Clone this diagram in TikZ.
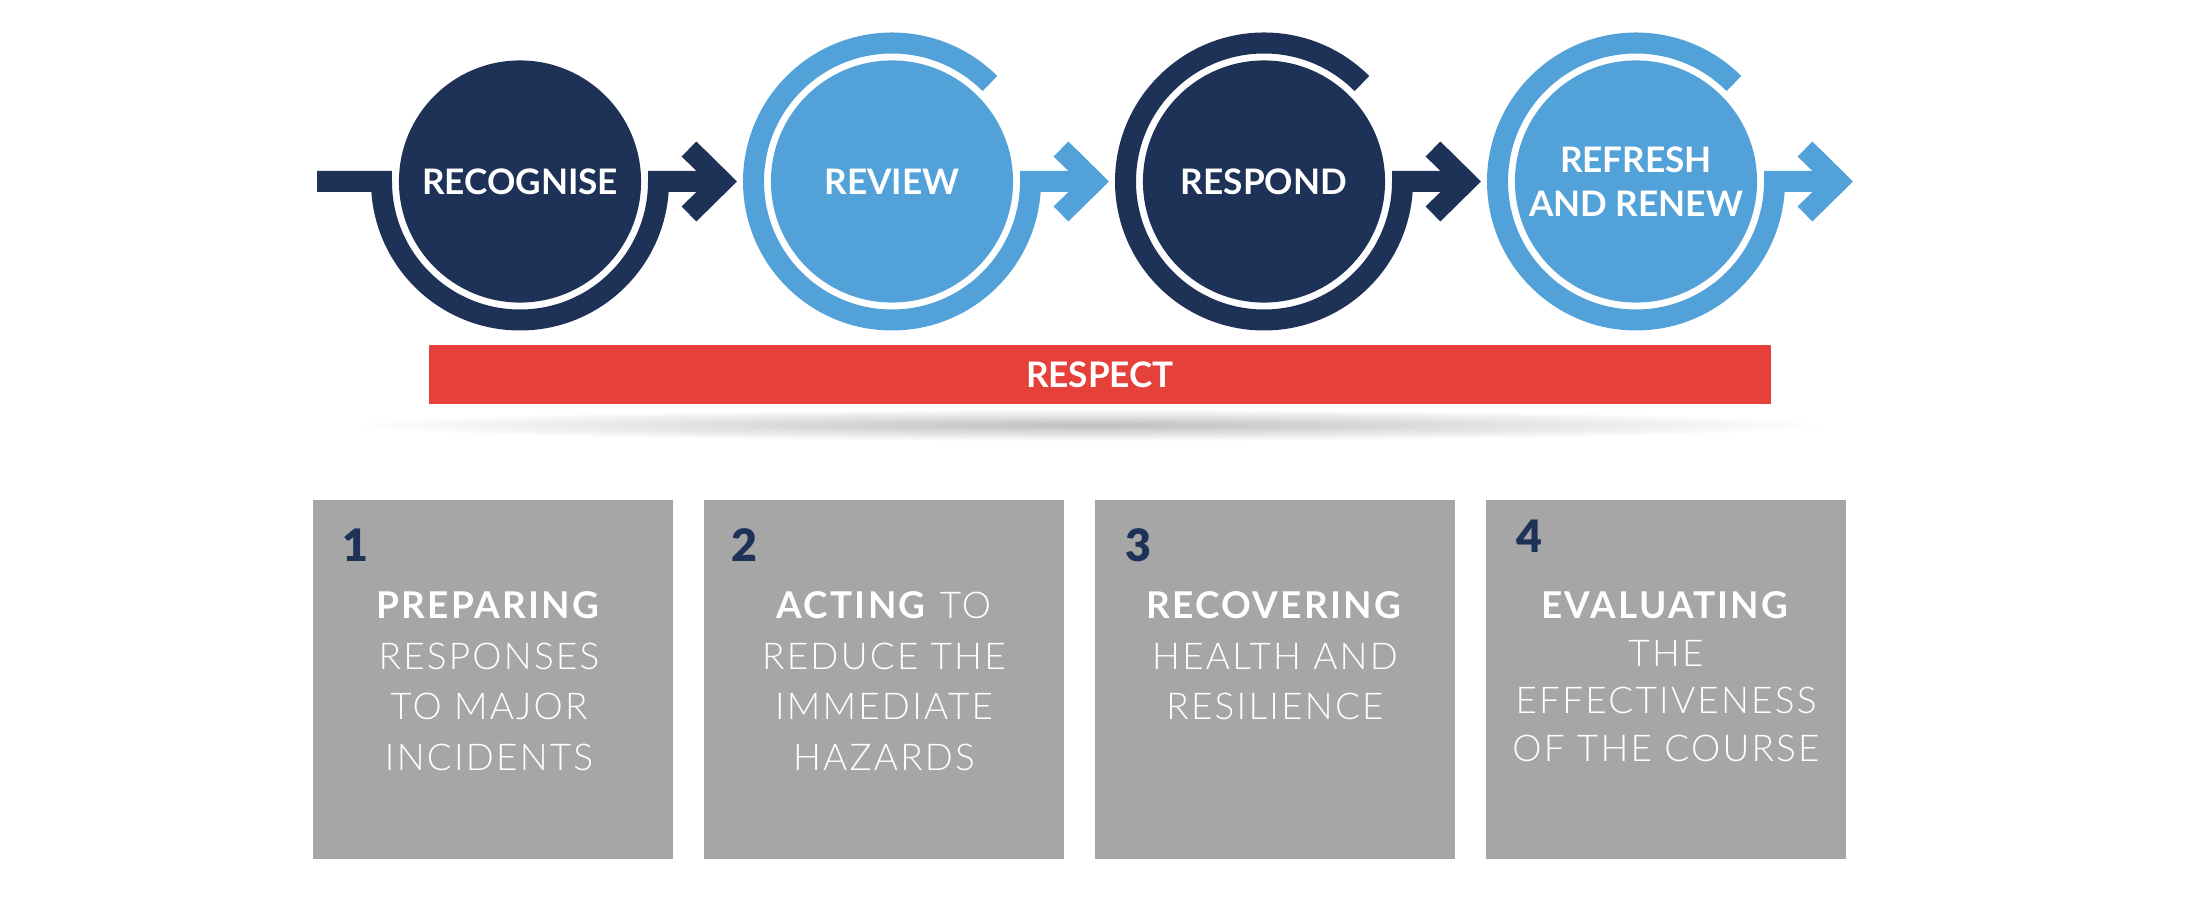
\documentclass[tikz,border=0pt]{standalone}
\usepackage{fontspec}
\setmainfont{Lato}[UprightFont=* Light, BoldFont=* Bold, LetterSpace=6]
\newfontfamily\stagefont{Lato Bold}
\newfontfamily\numfont{Lato Black}
\usetikzlibrary{calc}

\definecolor{navy}{HTML}{1E3157}
\definecolor{skyblue}{HTML}{52A2D9}
\definecolor{respectred}{HTML}{E54039}
\definecolor{cardgray}{HTML}{A6A6A6}

\tikzset{
    stage/.style={circle,minimum size=2.42cm,inner sep=0pt,text=white,align=center,
        font=\stagefont\fontsize{10}{12.6}\selectfont},
    ring/.style={line width=0.21cm},
    chevron/.style={line width=0.21cm,miter limit=10},
    card/.style={fill=cardgray,minimum width=3.6cm,minimum height=3.59cm,inner sep=0pt},
    cardnum/.style={anchor=base west,inner sep=0pt,text=navy,
        font=\numfont\fontsize{12.7}{14}\selectfont},
    cardtext/.style={anchor=north,inner sep=0pt,text=white,align=center,
        font=\fontsize{10.5}{14.34}\selectfont}
}

\begin{document}
\begin{tikzpicture}[x=0.01cm,y=0.01cm]
    \useasboundingbox (0,0) rectangle (2190,900);

    % the four stages
    \node[stage,fill=navy]    (recognise) at (520,718.5)  {RECOGNISE};
    \node[stage,fill=skyblue] (review)    at (892,718.5)  {REVIEW};
    \node[stage,fill=navy]    (respond)   at (1264,718.5) {RESPOND};
    \node[stage,fill=skyblue] (refresh)   at (1636,718.5) {REFRESH\\AND RENEW};

    \coordinate (start) at (317,718.5);

    % rings and arrows
    \draw[ring,navy] (start) -- ($(recognise.center)+(-138.5,0)$)
        arc[start angle=180,end angle=360,radius=138.5] -- ($(recognise.center)+(202,0)$);
    \draw[chevron,navy] ($(recognise.center)+(169,32.5)$) -- ($(recognise.center)+(202,0)$)
        -- ($(recognise.center)+(169,-32.5)$);

    \draw[ring,skyblue] ($(review.center)+(45:138.5)$)
        arc[start angle=45,end angle=360,radius=138.5] -- ($(review.center)+(202,0)$);
    \draw[chevron,skyblue] ($(review.center)+(169,32.5)$) -- ($(review.center)+(202,0)$)
        -- ($(review.center)+(169,-32.5)$);

    \draw[ring,navy] ($(respond.center)+(45:138.5)$)
        arc[start angle=45,end angle=360,radius=138.5] -- ($(respond.center)+(202,0)$);
    \draw[chevron,navy] ($(respond.center)+(169,32.5)$) -- ($(respond.center)+(202,0)$)
        -- ($(respond.center)+(169,-32.5)$);

    \draw[ring,skyblue] ($(refresh.center)+(45:138.5)$)
        arc[start angle=45,end angle=360,radius=138.5] -- ($(refresh.center)+(202,0)$);
    \draw[chevron,skyblue] ($(refresh.center)+(169,32.5)$) -- ($(refresh.center)+(202,0)$)
        -- ($(refresh.center)+(169,-32.5)$);

    % respect bar and its shadow
    \shade[inner color=black!25,outer color=white] (1090,475) ellipse [x radius=740,y radius=16];
    \node[fill=respectred,minimum width=13.42cm,minimum height=0.59cm,inner sep=0pt,text=white,
        font=\stagefont\fontsize{10}{12}\selectfont] (respect) at (1100,525.5) {RESPECT};

    % cards
    \node[card] (card1) at (493,220.5)  {};
    \node[card] (card2) at (884,220.5)  {};
    \node[card] (card3) at (1275,220.5) {};
    \node[card] (card4) at (1666,220.5) {};

    \node[cardnum] (num1) at ($(card1.north west)+(30,-62)$) {1};
    \node[cardnum] (num2) at ($(card2.north west)+(28,-62)$) {2};
    \node[cardnum] (num3) at ($(card3.north west)+(31,-62)$) {3};
    \node[cardnum] (num4) at ($(card4.north west)+(31,-53)$) {4};

    \node[cardtext] (text1) at ($(card1.north)+(-4,-92)$)
        {\textbf{PREPARING}\\RESPONSES\\TO MAJOR\\INCIDENTS};
    \node[cardtext] (text2) at ($(card2.north)+(0,-92)$)
        {\textbf{ACTING} TO\\REDUCE THE\\IMMEDIATE\\HAZARDS};
    \node[cardtext] (text3) at ($(card3.north)+(0,-92)$)
        {\textbf{RECOVERING}\\HEALTH AND\\RESILIENCE};
    \node[cardtext,font=\fontsize{10.5}{13.5}\selectfont] (text4) at ($(card4.north)+(0,-92)$)
        {\textbf{EVALUATING}\\THE\\EFFECTIVENESS\\OF THE COURSE};
\end{tikzpicture}
\end{document}
